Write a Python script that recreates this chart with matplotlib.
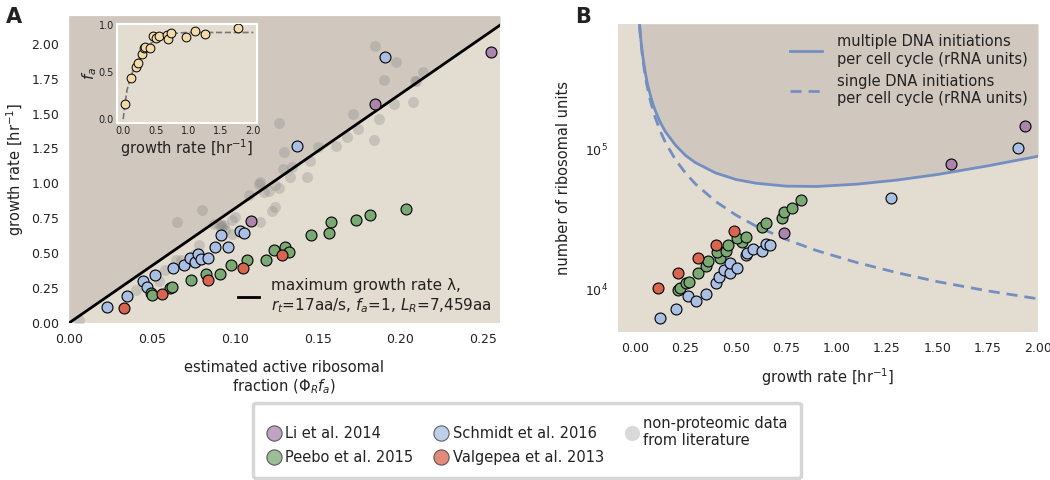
import numpy as np
import matplotlib
matplotlib.use("Agg")
import matplotlib.pyplot as plt
from matplotlib.lines import Line2D

# colours
bg = "#E3DCD0"
shade = "#D0C8BF"
c_li = "#AB85AC"
c_peebo = "#7AA974"
c_schmidt = "#A9BFE3"
c_valgepea = "#D9654F"
c_lit = "#7F7F7F"
c_fa = "#F3DAA9"
c_model = "#738FC1"

# ---- panel A: growth rate vs active ribosomal fraction
max_phi = [0.0, 0.26]
max_lam = [0.0, 2.133]

li_phi = [0.110, 0.1847, 0.2544]
li_lam = [0.734, 1.571, 1.938]

schmidt_phi = [0.0231, 0.0351, 0.0446, 0.0470, 0.0516, 0.0625, 0.0695, 0.0727, 0.0763, 0.0779,
               0.0797, 0.0839, 0.0880, 0.0914, 0.0958, 0.1030, 0.1058, 0.1376, 0.1907]
schmidt_lam = [0.114, 0.193, 0.298, 0.257, 0.346, 0.396, 0.413, 0.463, 0.436, 0.496,
               0.458, 0.463, 0.546, 0.629, 0.546, 0.658, 0.646, 1.268, 1.902]

peebo_phi = [0.0495, 0.0502, 0.0607, 0.0619, 0.0739, 0.0827, 0.0910, 0.0978, 0.1074, 0.1191,
             0.1235, 0.1305, 0.1329, 0.1458, 0.1566, 0.1580, 0.1733, 0.1813, 0.2032]
peebo_lam = [0.215, 0.203, 0.253, 0.258, 0.310, 0.348, 0.353, 0.417, 0.448, 0.455,
             0.525, 0.548, 0.508, 0.627, 0.646, 0.727, 0.739, 0.777, 0.818]

valgepea_phi = [0.0333, 0.0560, 0.0837, 0.1048, 0.1285]
valgepea_lam = [0.105, 0.205, 0.305, 0.396, 0.484]

lit_phi = [0.1843, 0.1974, 0.1898, 0.2133, 0.2092, 0.2085, 0.1961, 0.2076, 0.1711, 0.1873,
           0.1741, 0.1677, 0.1841, 0.1612, 0.1502, 0.1267, 0.1299, 0.1456, 0.1345, 0.1291,
           0.1436, 0.1331, 0.1151, 0.1145, 0.1245, 0.1269, 0.1175, 0.1084, 0.1241, 0.1225,
           0.0803, 0.0652, 0.0873, 0.0904, 0.0915, 0.0922, 0.0935, 0.0984, 0.1155, 0.0944,
           0.0984, 0.1205, 0.0783, 0.0673, 0.0703, 0.0582, 0.0643, 0.0402, 0.0763, 0.0062,
           0.1000, 0.0545]
lit_lam = [1.981, 1.866, 1.740, 1.795, 1.730, 1.735, 1.569, 1.580, 1.499, 1.459,
           1.387, 1.333, 1.311, 1.266, 1.258, 1.433, 1.223, 1.163, 1.115, 1.104,
           1.044, 1.049, 1.013, 0.997, 0.990, 0.968, 0.937, 0.918, 0.834, 0.801,
           0.806, 0.722, 0.711, 0.699, 0.705, 0.690, 0.700, 0.739, 0.722, 0.663,
           0.639, 0.949, 0.556, 0.448, 0.425, 0.377, 0.455, 0.234, 0.496, 0.019,
           0.760, 0.300]

# inset: active fraction f_a vs growth rate
fa_lam = [0.035, 0.127, 0.199, 0.234, 0.285, 0.321, 0.337, 0.407, 0.453, 0.499,
          0.545, 0.678, 0.683, 0.735, 0.969, 1.103, 1.260, 1.770]
fa_val = [0.159, 0.438, 0.551, 0.594, 0.689, 0.756, 0.763, 0.759, 0.887, 0.865,
          0.887, 0.894, 0.852, 0.912, 0.870, 0.936, 0.905, 0.965]
fit_lam = [0.0, 0.03, 0.06, 0.1, 0.15, 0.2, 0.3, 0.4, 0.5, 0.6, 0.7, 0.85, 1.0, 1.5, 2.0]
fit_fa = [0.0, 0.17, 0.31, 0.41, 0.51, 0.59, 0.71, 0.79, 0.845, 0.88, 0.90, 0.915, 0.92, 0.92, 0.92]

# ---- panel B: ribosomal units vs growth rate
model_lam = [0.022, 0.026, 0.03, 0.035, 0.04, 0.05, 0.06, 0.075, 0.09, 0.1, 0.125, 0.15, 0.2,
             0.25, 0.3, 0.4, 0.5, 0.6, 0.75, 0.9, 1.1, 1.3, 1.5, 1.75, 2.0]
multi_N = [7.9e5, 6.7e5, 5.87e5, 5.05e5, 4.45e5, 3.6e5, 3.02e5, 2.48e5, 2.09e5, 1.91e5,
           1.57e5, 1.35e5, 1.08e5, 9.1e4, 8.07e4, 6.81e4, 6.12e4, 5.75e4, 5.48e4, 5.45e4,
           5.66e4, 6.06e4, 6.64e4, 7.66e4, 8.98e4]
single_N = [7.7e5, 6.5e5, 5.67e5, 4.86e5, 4.25e5, 3.4e5, 2.83e5, 2.27e5, 1.89e5, 1.7e5,
            1.36e5, 1.13e5, 8.5e4, 6.8e4, 5.67e4, 4.25e4, 3.4e4, 2.83e4, 2.27e4, 1.89e4,
            1.55e4, 1.31e4, 1.13e4, 9.7e3, 8.5e3]

li_lamB = [0.737, 1.569, 1.934]
li_N = [25100, 79100, 148400]
schmidt_lamB = [0.121, 0.203, 0.262, 0.302, 0.352, 0.402, 0.418, 0.440, 0.473, 0.473,
                0.506, 0.551, 0.553, 0.584, 0.631, 0.651, 0.667, 1.270, 1.901]
schmidt_N = [6170, 7190, 8960, 8170, 9160, 11030, 12240, 13670, 12950, 15250,
             14070, 17490, 18290, 19310, 18790, 21090, 20610, 44670, 103700]
peebo_lamB = [0.211, 0.224, 0.252, 0.265, 0.310, 0.350, 0.362, 0.420, 0.407, 0.452,
              0.462, 0.531, 0.506, 0.551, 0.631, 0.651, 0.731, 0.739, 0.780, 0.822]
peebo_N = [9840, 10120, 11030, 11280, 12950, 14520, 15920, 16740, 18480, 18600,
           20860, 21900, 23380, 23770, 28050, 29950, 32520, 35650, 37900, 43450]
valgepea_lamB = [0.111, 0.211, 0.310, 0.400, 0.491]
valgepea_N = [10100, 12950, 16740, 20860, 26230]

plt.rcParams["font.family"] = "DejaVu Sans"
plt.rcParams["text.color"] = "#222222"
plt.rcParams["axes.labelcolor"] = "#222222"
plt.rcParams["xtick.color"] = "#222222"
plt.rcParams["ytick.color"] = "#222222"

fig = plt.figure(figsize=(10.5, 4.8), dpi=100)
axA = fig.add_axes([0.0657, 0.327, 0.4105, 0.640])
axB = fig.add_axes([0.5886, 0.308, 0.400, 0.642])
axI = fig.add_axes([0.1111, 0.743, 0.1333, 0.207])

pt = dict(s=62, edgecolors="k", linewidths=0.8, zorder=4)

# panel A
axA.set_facecolor(bg)
axA.fill_between(max_phi, max_lam, [2.2, 2.2], color=shade, zorder=0, lw=0)
axA.scatter(lit_phi, lit_lam, s=62, color=c_lit, alpha=0.28, lw=0, zorder=1)
axA.plot(max_phi, max_lam, color="k", lw=2, zorder=2,
         label="maximum growth rate \u03bb,\n$r_t$=17aa/s, $f_a$=1, $L_R$=7,459aa")
axA.scatter(li_phi, li_lam, color=c_li, **pt)
axA.scatter(schmidt_phi, schmidt_lam, color=c_schmidt, **pt)
axA.scatter(peebo_phi, peebo_lam, color=c_peebo, **pt)
axA.scatter(valgepea_phi, valgepea_lam, color=c_valgepea, **pt)
axA.set_xlim(0, 0.26)
axA.set_ylim(0, 2.2)
axA.set_xticks([0, 0.05, 0.10, 0.15, 0.20, 0.25])
axA.set_xticklabels(["0.00", "0.05", "0.10", "0.15", "0.20", "0.25"])
axA.set_yticks([0, 0.25, 0.5, 0.75, 1.0, 1.25, 1.5, 1.75, 2.0])
axA.set_yticklabels(["0.00", "0.25", "0.50", "0.75", "1.00", "1.25", "1.50", "1.75", "2.00"])
axA.set_xlabel("estimated active ribosomal\nfraction ($\\Phi_R f_a$)", fontsize=10.5, labelpad=10)
axA.set_ylabel("growth rate [hr$^{-1}$]", fontsize=10.5, labelpad=4)
axA.legend(loc="lower right", fontsize=11, frameon=False, handlelength=1.4,
           handletextpad=0.8, borderaxespad=0.15)

# inset
axI.set_facecolor(bg)
axI.plot(fit_lam, fit_fa, ls="--", color="#777777", lw=1.2, zorder=1)
axI.scatter(fa_lam, fa_val, s=40, color=c_fa, edgecolors="k", linewidths=0.7, zorder=3)
axI.set_xlim(-0.1, 2.05)
axI.set_ylim(-0.045, 1.01)
axI.set_xticks([0, 0.5, 1.0, 1.5, 2.0])
axI.set_yticks([0, 0.5, 1.0])
axI.tick_params(labelsize=7, length=0, pad=2)
axI.set_xlabel("growth rate [hr$^{-1}$]", fontsize=10.5, labelpad=1)
axI.set_ylabel("$f_a$", fontsize=11, labelpad=0)
for s in axI.spines.values():
    s.set_color("white")
    s.set_linewidth(1.5)

# panel B
axB.set_facecolor(bg)
axB.fill_between(model_lam, multi_N, [8e5] * len(model_lam), color=shade, lw=0, zorder=0)
axB.plot(model_lam, multi_N, color=c_model, lw=2, zorder=2,
         label="multiple DNA initiations\nper cell cycle (rRNA units)")
axB.plot(model_lam, single_N, color=c_model, lw=2, ls=(0, (4, 2.5)), zorder=2,
         label="single DNA initiations\nper cell cycle (rRNA units)")
axB.scatter(li_lamB, li_N, color=c_li, **pt)
axB.scatter(schmidt_lamB, schmidt_N, color=c_schmidt, **pt)
axB.scatter(peebo_lamB, peebo_N, color=c_peebo, **pt)
axB.scatter(valgepea_lamB, valgepea_N, color=c_valgepea, **pt)
axB.set_yscale("log")
axB.set_xlim(-0.085, 2.0)
axB.set_ylim(4900, 8e5)
axB.set_xticks([0, 0.25, 0.5, 0.75, 1.0, 1.25, 1.5, 1.75, 2.0])
axB.set_xticklabels(["0.00", "0.25", "0.50", "0.75", "1.00", "1.25", "1.50", "1.75", "2.00"])
axB.set_yticks([1e4, 1e5])
axB.set_yticklabels(["$10^4$", "$10^5$"])
axB.set_xlabel("growth rate [hr$^{-1}$]", fontsize=10.5, labelpad=8)
axB.set_ylabel("number of ribosomal units", fontsize=10.5, labelpad=10)
axB.legend(loc="upper right", fontsize=10.5, frameon=False, handlelength=2.2,
           handletextpad=1.0, labelspacing=0.5, borderaxespad=0.3)

for ax in (axA, axB):
    for s in ax.spines.values():
        s.set_visible(False)
    ax.tick_params(which="both", length=0, labelsize=9, pad=7)

# shared legend
mk = dict(marker="o", ls="none", markersize=11, markeredgecolor="#333333", markeredgewidth=0.8)
handles = [
    Line2D([], [], color=c_li, alpha=0.75, label="Li et al. 2014", **mk),
    Line2D([], [], color=c_peebo, alpha=0.75, label="Peebo et al. 2015", **mk),
    Line2D([], [], color=c_schmidt, alpha=0.75, label="Schmidt et al. 2016", **mk),
    Line2D([], [], color=c_valgepea, alpha=0.75, label="Valgepea et al. 2013", **mk),
    Line2D([], [], marker="o", ls="none", markersize=11, color="#D9D9D9", markeredgewidth=0,
           label="non-proteomic data\nfrom literature"),
]
leg = fig.legend(handles=handles, loc="center", bbox_to_anchor=(0.502, 0.083), ncol=3,
                 fontsize=10.5, frameon=True, handletextpad=0.3, columnspacing=1.4,
                 borderpad=0.9, labelspacing=0.6, handlelength=1.0)
leg.get_frame().set_edgecolor("#CCCCCC")
leg.get_frame().set_linewidth(2.5)
leg.get_frame().set_facecolor("white")

fig.text(0.006, 0.985, "A", fontsize=15, fontweight="bold", va="top")
fig.text(0.548, 0.985, "B", fontsize=15, fontweight="bold", va="top")

fig.savefig("out.png", dpi=100)
